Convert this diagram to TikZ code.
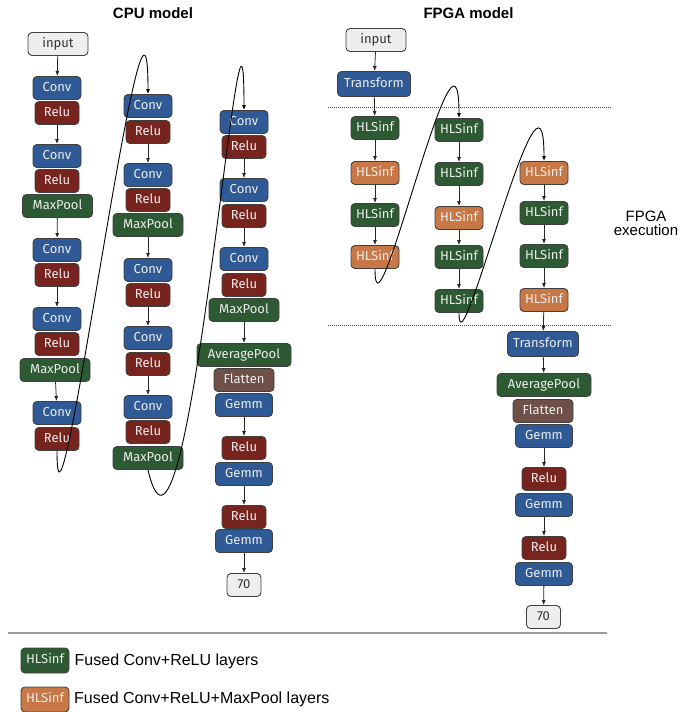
\documentclass[tikz,border=0pt]{standalone}
\usepackage{fontspec}
\setmainfont{Liberation Sans}
\newfontfamily\boxfont{Fira Sans}
\usetikzlibrary{arrows.meta}
\definecolor{cblue}{HTML}{2F5A96}
\definecolor{cred}{HTML}{78241E}
\definecolor{cgreen}{HTML}{2D5A32}
\definecolor{cbrown}{HTML}{6E5048}
\definecolor{corange}{HTML}{C87846}
\definecolor{cgray}{HTML}{EEEEEE}
\begin{document}
\begin{tikzpicture}[x=1pt,y=-1pt,
  lay/.style={draw=black!75, line width=0.9pt, rounded corners=4pt, text=white!93!black,
    font=\boxfont\fontsize{13}{13}\selectfont, inner sep=0pt, minimum height=23pt,
    text height=9.4pt, text depth=2.6pt},
  conv/.style={lay, fill=cblue, minimum width=48pt},
  relu/.style={lay, fill=cred, minimum width=44pt},
  pool/.style={lay, fill=cgreen, minimum width=70pt},
  avgp/.style={lay, fill=cgreen, minimum width=94pt},
  flat/.style={lay, fill=cbrown, minimum width=60pt},
  gemm/.style={lay, fill=cblue, minimum width=57pt},
  trans/.style={lay, fill=cblue, minimum width=73pt, minimum height=25pt},
  hlsg/.style={lay, fill=cgreen, minimum width=48pt},
  hlso/.style={lay, fill=corange, minimum width=48pt},
  io/.style={lay, fill=cgray, text=black!80, minimum width=60pt},
  outn/.style={lay, fill=cgray, text=black!80, minimum width=34pt},
  arr/.style={-{Latex[length=5pt,width=4pt]}, line width=0.8pt, black!85},
  loop/.style={-{Latex[length=5pt,width=4pt]}, line width=0.9pt, black},
  sep/.style={line width=1pt, black!70, dash pattern=on 1pt off 1pt},
  title/.style={font=\bfseries\fontsize{15}{15}\selectfont, anchor=base},
  side/.style={font=\fontsize{15}{15}\selectfont, anchor=base, inner sep=0pt}
]
\useasboundingbox (0,0) rectangle (699,712);

% titles
\node[title] (tcpu) at (153,18.5) {CPU model};
\node[title] (tfpga) at (468.5,18.5) {FPGA model};

% CPU column 1
\node[io] (i1) at (58,44) {input};
\node[conv] (c1a) at (57,88) {Conv};
\node[relu] (r1a) at (57,113) {Relu};
\node[conv] (c1b) at (57,156) {Conv};
\node[relu] (r1b) at (57,181) {Relu};
\node[pool] (m1a) at (57.5,206) {MaxPool};
\node[conv] (c1c) at (57,250) {Conv};
\node[relu] (r1c) at (57,275) {Relu};
\node[conv] (c1d) at (57,319) {Conv};
\node[relu] (r1d) at (57,344) {Relu};
\node[pool] (m1b) at (55,370) {MaxPool};
\node[conv] (c1e) at (57,413) {Conv};
\node[relu] (r1e) at (57,439) {Relu};

% CPU column 2
\node[conv] (c2a) at (148,106) {Conv};
\node[relu] (r2a) at (148,132) {Relu};
\node[conv] (c2b) at (148,175) {Conv};
\node[relu] (r2b) at (148,200) {Relu};
\node[pool] (m2a) at (148,225) {MaxPool};
\node[conv] (c2c) at (148,270) {Conv};
\node[relu] (r2c) at (148,295) {Relu};
\node[conv] (c2d) at (148,338) {Conv};
\node[relu] (r2d) at (148,364) {Relu};
\node[conv] (c2e) at (148,407) {Conv};
\node[relu] (r2e) at (148,432) {Relu};
\node[pool] (m2b) at (148,458) {MaxPool};

% CPU column 3
\node[conv] (c3a) at (244,122) {Conv};
\node[relu] (r3a) at (244,147) {Relu};
\node[conv] (c3b) at (244,190) {Conv};
\node[relu] (r3b) at (244,216) {Relu};
\node[conv] (c3c) at (244,259) {Conv};
\node[relu] (r3c) at (244,285) {Relu};
\node[pool] (m3) at (244,310) {MaxPool};
\node[avgp] (ap3) at (244,355) {AveragePool};
\node[flat] (fl3) at (244,380) {Flatten};
\node[gemm] (g3a) at (244,405) {Gemm};
\node[relu] (r3d) at (244,448) {Relu};
\node[gemm] (g3b) at (244,474) {Gemm};
\node[relu] (r3e) at (244,517) {Relu};
\node[gemm] (g3c) at (244,541) {Gemm};
\node[outn] (o3) at (244,585) {70};

% FPGA column 1
\node[io] (i4) at (376,40) {input};
\node[trans] (t4) at (374,84) {Transform};
\node[hlsg] (h4a) at (375,128) {HLSinf};
\node[hlso] (h4b) at (375,173) {HLSinf};
\node[hlsg] (h4c) at (375,215) {HLSinf};
\node[hlso] (h4d) at (375,257) {HLSinf};

% FPGA column 2
\node[hlsg] (h5a) at (459,130) {HLSinf};
\node[hlsg] (h5b) at (459,174) {HLSinf};
\node[hlso] (h5c) at (459,218) {HLSinf};
\node[hlsg] (h5d) at (459,257) {HLSinf};
\node[hlsg] (h5e) at (459,301) {HLSinf};

% FPGA column 3
\node[hlso] (h6a) at (544,173) {HLSinf};
\node[hlsg] (h6b) at (544,213) {HLSinf};
\node[hlsg] (h6c) at (544,256) {HLSinf};
\node[hlso] (h6d) at (544,300) {HLSinf};
\node[trans, minimum width=71pt] (t6) at (543,344) {Transform};
\node[avgp] (ap6) at (544,385) {AveragePool};
\node[flat] (fl6) at (543,411) {Flatten};
\node[gemm] (g6a) at (544,436) {Gemm};
\node[relu] (r6a) at (544,479) {Relu};
\node[gemm] (g6b) at (544,505) {Gemm};
\node[relu] (r6b) at (544,548) {Relu};
\node[gemm] (g6c) at (544,574) {Gemm};
\node[outn] (o6) at (543.5,617) {70};

% separators
\coordinate (s1a) at (328,107); \coordinate (s1b) at (612,107);
\coordinate (s2a) at (328,325); \coordinate (s2b) at (612,325);
\draw[sep] (s1a) -- (s1b);
\draw[sep] (s2a) -- (s2b);
\coordinate (b1) at (8,633); \coordinate (b2) at (607,633);
\draw[line width=1.8pt, black!40] (b1) -- (b2);

\node[side] (fx1) at (646,221) {FPGA};
\node[side] (fx2) at (646,235) {execution};

% straight arrows
\draw[arr] (i1) -- (c1a);
\draw[arr] (r1a) -- (c1b);
\draw[arr] (m1a) -- (c1c);
\draw[arr] (r1c) -- (c1d);
\draw[arr] (m1b) -- (c1e);
\draw[arr] (r2a) -- (c2b);
\draw[arr] (m2a) -- (c2c);
\draw[arr] (r2c) -- (c2d);
\draw[arr] (r2d) -- (c2e);
\draw[arr] (r3a) -- (c3b);
\draw[arr] (r3b) -- (c3c);
\draw[arr] (m3) -- (ap3);
\draw[arr] (g3a) -- (r3d);
\draw[arr] (g3b) -- (r3e);
\draw[arr] (g3c) -- (o3);
\draw[arr] (i4) -- (t4);
\draw[arr] (t4) -- (h4a);
\draw[arr] (h4a) -- (h4b);
\draw[arr] (h4b) -- (h4c);
\draw[arr] (h4c) -- (h4d);
\draw[arr] (h5a) -- (h5b);
\draw[arr] (h5b) -- (h5c);
\draw[arr] (h5c) -- (h5d);
\draw[arr] (h5d) -- (h5e);
\draw[arr] (h6a) -- (h6b);
\draw[arr] (h6b) -- (h6c);
\draw[arr] (h6c) -- (h6d);
\draw[arr] (h6d) -- (t6);
\draw[arr] (t6) -- (ap6);
\draw[arr] (g6a) -- (r6a);
\draw[arr] (g6b) -- (r6b);
\draw[arr] (g6c) -- (o6);

% loops between columns
\draw[loop] (r1e.south) .. controls +(0,150) and +(0,-200) .. (c2a.north);
\draw[loop] (m2b.south) .. controls +(40,170) and +(0,-220) .. (c3a.north);
\draw[loop] (h4d.south) .. controls +(0,90) and +(0,-134) .. (h5a.north);
\draw[loop] (h5e.south) .. controls +(0,70) and +(0,-134) .. (h6a.north);

% legend
\node[hlsg, minimum height=25pt] (lg) at (45,660.5) {HLSinf};
\node[hlso, minimum height=25pt] (lo) at (45,699.5) {HLSinf};
\node[font=\fontsize{16}{16}\selectfont, anchor=base west, inner sep=0pt] (lgt) at (74.5,665.5) {Fused Conv+ReLU layers};
\node[font=\fontsize{16}{16}\selectfont, anchor=base west, inner sep=0pt] (lot) at (74,703.5) {Fused Conv+ReLU+MaxPool layers};
\end{tikzpicture}
\end{document}
